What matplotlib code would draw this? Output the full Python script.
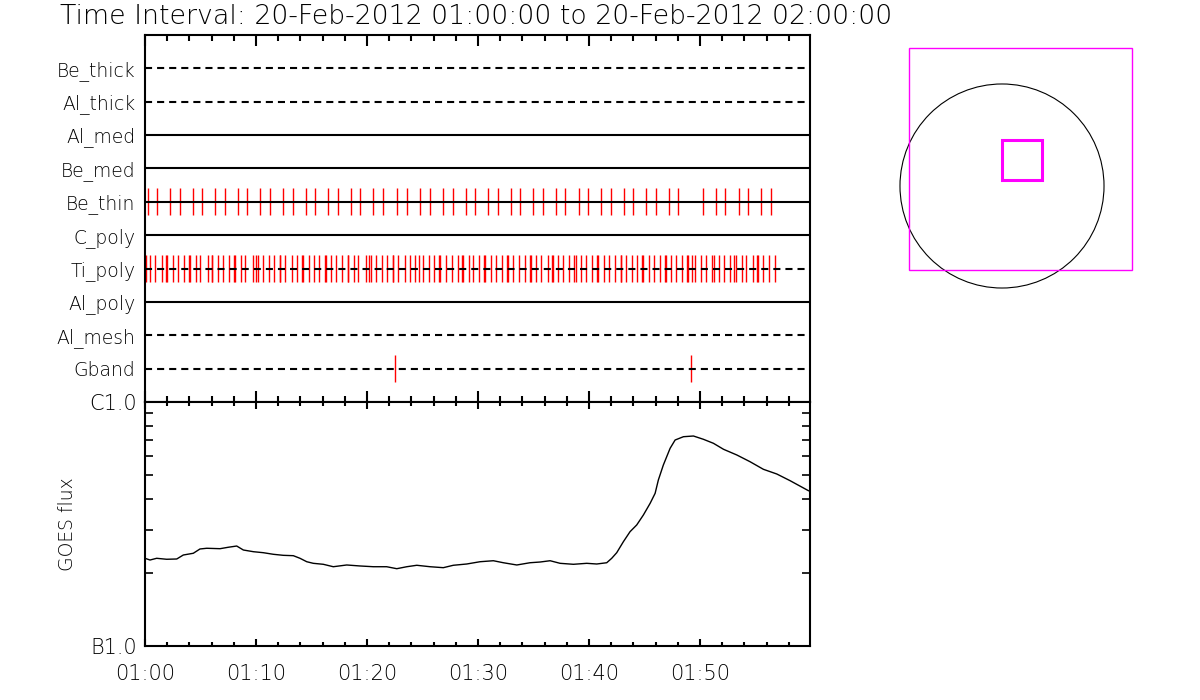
import numpy as np
import matplotlib
matplotlib.use('Agg')
import matplotlib.pyplot as plt
from matplotlib.patches import Circle, Rectangle
from matplotlib.ticker import FixedLocator, FuncFormatter, MultipleLocator, NullFormatter, LogLocator

# detector rows, top to bottom
row_names = ['Be_thick', 'Al_thick', 'Al_med', 'Be_med', 'Be_thin',
             'C_poly', 'Ti_poly', 'Al_poly', 'Al_mesh', 'Gband']
row_styles = ['dashed', 'dashed', 'solid', 'solid', 'solid',
              'solid', 'dashed', 'solid', 'dashed', 'dashed']

# event times in minutes after 01:00
be_thin_times = [0.30, 1.11, 2.28, 3.18, 4.35, 5.16, 6.33, 7.23, 8.41, 9.22,
                 10.39, 11.29, 12.46, 13.36, 14.53, 15.34, 16.51, 17.41, 18.59, 19.40,
                 20.57, 21.47, 22.73, 23.63, 24.80, 25.70, 26.87, 27.77, 28.95, 29.76,
                 30.93, 31.83, 33.00, 33.81, 34.98, 35.88, 37.05, 37.86, 39.13, 39.94,
                 41.11, 42.01, 43.18, 43.99, 45.16, 46.06, 47.23, 48.05,
                 50.30, 51.47, 52.28, 53.54, 54.35, 55.53, 56.43]

ti_poly_times = [0.06, 0.48, 0.93, 1.56, 1.91, 1.99, 2.52, 3.00, 3.48, 3.98, 4.06,
                 4.62, 4.98, 5.65, 6.00, 6.08, 6.61, 7.06, 7.54, 8.04, 8.12,
                 8.68, 9.04, 9.70, 10.03, 10.21, 10.66, 11.14, 11.65, 12.12, 12.20,
                 12.64, 13.21, 13.72, 14.16, 14.24, 14.74, 15.20, 15.71, 16.18, 16.26,
                 16.76, 17.24, 17.75, 18.25, 18.33, 18.86, 19.22, 19.88, 20.21, 20.39,
                 20.84, 21.32, 21.83, 22.30, 22.38, 22.82, 23.39, 23.90, 24.35, 24.65,
                 25.08, 25.56, 26.07, 26.51, 26.59, 27.15, 27.63, 28.17, 28.58, 28.66,
                 29.16, 29.58, 30.09, 30.53, 30.61, 31.20, 31.65, 32.19, 32.63, 32.71,
                 33.18, 33.66, 34.26, 34.65, 34.80, 35.25, 35.68, 36.28, 36.69, 36.77,
                 37.21, 37.69, 38.23, 38.68, 38.86, 39.31, 39.76, 40.27, 40.74, 40.82,
                 41.35, 41.77, 42.37, 42.84, 42.92, 43.36, 43.87, 44.35, 44.79, 44.87,
                 45.44, 45.89, 46.43, 46.87, 46.95, 47.42, 47.87, 48.38, 48.83, 48.95,
                 49.25, 49.58, 50.09, 50.57, 51.08, 51.23, 51.74, 52.19, 52.70, 53.09,
                 53.24, 53.75, 54.17, 54.74, 55.16, 55.24, 55.71, 56.19, 56.79]

gband_times = [22.55, 49.22]

# GOES flux (W/m^2) vs minutes after 01:00
goes_t = [0.00, 0.45, 1.05, 1.95, 2.86, 3.45, 4.35, 4.95, 5.56, 6.76,
          7.50, 8.26, 8.86, 9.76, 10.66, 11.56, 12.46, 13.36, 13.96, 14.57,
          15.16, 16.06, 16.96, 18.17, 19.37, 20.57, 21.77, 22.68, 23.58, 24.48,
          25.68, 26.87, 27.77, 28.98, 30.18, 31.38, 32.28, 33.49, 34.68, 35.59,
          36.49, 37.39, 38.59, 39.79, 40.69, 41.59, 42.04, 42.49, 43.09, 43.69,
          44.29, 44.89, 45.50, 45.95, 46.24, 46.69, 47.30, 47.75, 48.50, 49.40,
          50.30, 51.20, 52.11, 53.31, 54.50, 55.70, 56.91, 58.11, 59.76]
goes_flux = [2.288, 2.251, 2.288, 2.267, 2.273, 2.360, 2.399, 2.498, 2.515, 2.505,
             2.539, 2.569, 2.474, 2.435, 2.412, 2.376, 2.353, 2.345, 2.288, 2.215,
             2.182, 2.162, 2.113, 2.148, 2.128, 2.113, 2.113, 2.074, 2.113, 2.142,
             2.113, 2.094, 2.142, 2.168, 2.215, 2.236, 2.194, 2.148, 2.194, 2.209,
             2.236, 2.182, 2.162, 2.182, 2.168, 2.194, 2.288, 2.412, 2.676, 2.941,
             3.133, 3.442, 3.844, 4.225, 4.789, 5.518, 6.460, 6.986, 7.207, 7.255,
             7.033, 6.773, 6.400, 6.065, 5.692, 5.299, 5.069, 4.758, 4.330]
goes_flux = [f * 1e-7 for f in goes_flux]

# locator map, arcsec
sun_radius = 960
fov_center = (174, 254)
fov_size = 2094
box_center = (190, 247)
box_size = 380

plt.rcParams['font.family'] = ['DejaVu Sans']
plt.rcParams['font.weight'] = 'light'
fig = plt.figure(figsize=(12, 7), dpi=100)

x0, w = 145 / 1200, 665 / 1200
axt = fig.add_axes([x0, 1 - 402 / 700, w, 367 / 700])
axb = fig.add_axes([x0, 1 - 646 / 700, w, 244 / 700], sharex=axt)

n = len(row_names)
axt.vlines(be_thin_times, n - 4 - 0.4, n - 4 + 0.4, color='red', lw=1.0)
axt.vlines(ti_poly_times, n - 6 - 0.4, n - 6 + 0.4, color='red', lw=1.0)
axt.vlines(gband_times, n - 9 - 0.4, n - 9 + 0.4, color='red', lw=1.0)

for i, (name, ls) in enumerate(zip(row_names, row_styles)):
    y = n - i
    if ls == 'dashed':
        axt.plot([0, 60], [y, y], color='black', lw=1.5, linestyle=(0, (3.4, 2.4)))
    else:
        axt.axhline(y, color='black', lw=1.5)

axt.set_ylim(0, n + 1)
axt.set_yticks(range(n, 0, -1))
axt.set_yticklabels(row_names)
axt.tick_params(axis='y', length=0, pad=7, labelsize=13.5)

axb.plot(goes_t, goes_flux, color='black', lw=1.0)
axb.set_yscale('log')
axb.set_ylim(1e-7, 1e-6)
axb.yaxis.set_major_locator(FixedLocator([1e-7, 1e-6]))
axb.yaxis.set_major_formatter(FuncFormatter(lambda v, p: 'B1.0' if v < 5e-7 else 'C1.0'))
axb.yaxis.set_minor_locator(LogLocator(base=10, subs=np.arange(2, 10)))
axb.yaxis.set_minor_formatter(NullFormatter())
axb.tick_params(axis='y', which='both', direction='in', left=True, right=True,
                length=6, width=1.2, labelsize=15, pad=6)
axb.set_ylabel('GOES flux', fontsize=13.5, fontweight='light')
axb.yaxis.set_label_coords(-0.102, 0.5)

axb.set_xlim(0, 59.9)
axb.xaxis.set_major_locator(FixedLocator([0, 10, 20, 30, 40, 50]))
axb.xaxis.set_minor_locator(MultipleLocator(2))
axb.xaxis.set_major_formatter(FuncFormatter(lambda m, p: '01:%02d' % int(round(m))))
axb.tick_params(axis='x', which='both', direction='in', top=True, bottom=True,
                width=1.5, labelsize=15, pad=13)
axb.tick_params(axis='x', which='major', length=5)
axb.tick_params(axis='x', which='minor', length=3)

axt.tick_params(axis='x', which='both', direction='in', top=True, bottom=True,
                labelbottom=False, width=1.5)
axt.tick_params(axis='x', which='major', length=8)
axt.tick_params(axis='x', which='minor', length=4.5)

for ax in (axt, axb):
    for s in ax.spines.values():
        s.set_linewidth(1.5)

fig.text(60 / 1200, 1 - 17 / 700, 'Time Interval: 20-Feb-2012 01:00:00 to 20-Feb-2012 02:00:00',
         fontsize=19.3, ha='left', va='center')

# locator map
axm = fig.add_axes([880 / 1200, 1 - 300 / 700, 280 / 1200, 270 / 700])
scale = 9.41
axm.set_xlim(-122 * scale, 158 * scale)
axm.set_ylim(-114 * scale, 156 * scale)
axm.set_aspect('equal')
axm.axis('off')
axm.add_patch(Circle((0, 0), sun_radius, fill=False, color='black', lw=0.8))
axm.add_patch(Rectangle((fov_center[0] - fov_size / 2, fov_center[1] - fov_size / 2),
                        fov_size, fov_size, fill=False, edgecolor='#ff00ff', lw=1.0))
axm.add_patch(Rectangle((box_center[0] - box_size / 2, box_center[1] - box_size / 2),
                        box_size, box_size, fill=False, edgecolor='#ff00ff', lw=2.2))

fig.savefig('out.png', dpi=100)
